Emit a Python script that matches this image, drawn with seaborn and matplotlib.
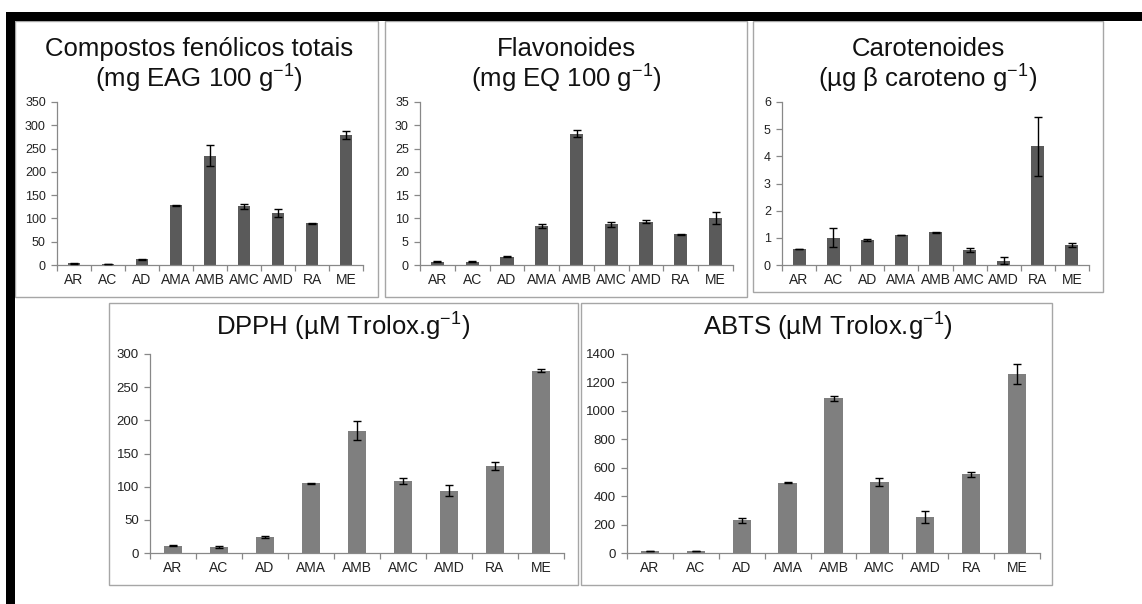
import matplotlib
matplotlib.use("Agg")
import matplotlib.pyplot as plt
from matplotlib.patches import Rectangle
import seaborn as sns
import numpy as np

sns.set_theme(style="white")
plt.rcParams['font.family'] = ['Liberation Sans', 'DejaVu Sans']
plt.rcParams['mathtext.default'] = 'regular'

categories = ["AR", "AC", "AD", "AMA", "AMB", "AMC", "AMD", "RA", "ME"]

fenolicos = [3.5, 2.0, 12.0, 128.0, 235.0, 126.0, 112.0, 90.0, 279.0]
fenolicos_err = [1.0, 0.5, 1.5, 1.5, 22.0, 6.0, 9.0, 1.0, 9.0]

flavonoides = [0.7, 0.7, 1.8, 8.3, 28.2, 8.7, 9.3, 6.6, 10.1]
flavonoides_err = [0.1, 0.1, 0.1, 0.4, 0.8, 0.45, 0.35, 0.1, 1.2]

carotenoides = [0.59, 1.0, 0.92, 1.1, 1.21, 0.55, 0.16, 4.37, 0.74]
carotenoides_err = [0.01, 0.35, 0.04, 0.01, 0.02, 0.06, 0.14, 1.09, 0.08]

dpph = [11.0, 9.0, 24.0, 105.0, 184.5, 108.5, 94.0, 131.0, 275.0]
dpph_err = [1.0, 2.0, 2.0, 1.0, 14.0, 4.0, 8.0, 6.0, 2.0]

abts = [14.0, 14.0, 230.0, 493.0, 1088.0, 500.0, 256.0, 554.0, 1259.0]
abts_err = [3.0, 3.0, 18.0, 3.0, 19.0, 27.0, 42.0, 19.0, 73.0]

titles = [
    "Compostos fenólicos totais\n(mg EAG 100 g$^{-1}$)",
    "Flavonoides\n(mg EQ 100 g$^{-1}$)",
    "Carotenoides\n(µg β caroteno g$^{-1}$)",
    "DPPH (µM Trolox.g$^{-1}$)",
    "ABTS (µM Trolox.g$^{-1}$)",
]

W, H = 1142, 604
fig = plt.figure(figsize=(W / 100, H / 100), dpi=100)
fig.patch.set_facecolor("white")


def fbox(x0, y0, x1, y1):
    return [x0 / W, 1 - y1 / H, (x1 - x0) / W, (y1 - y0) / H]


# black border bars
fig.patches.append(Rectangle((6 / W, 1 - 21 / H), (W - 6) / W, 9 / H,
                             transform=fig.transFigure, facecolor="black",
                             edgecolor="none", zorder=5))
fig.patches.append(Rectangle((6 / W, 0), 9 / W, 1 - 12 / H,
                             transform=fig.transFigure, facecolor="black",
                             edgecolor="none", zorder=5))

frames = [(15, 21, 378, 297), (385, 21, 747, 297), (753, 21, 1103, 292),
          (109, 303, 578, 585), (581, 303, 1052, 585)]
for (x0, y0, x1, y1) in frames:
    b = fbox(x0, y0, x1, y1)
    fig.patches.append(Rectangle((b[0], b[1]), b[2], b[3],
                                 transform=fig.transFigure, facecolor="none",
                                 edgecolor="#a6a6a6", lw=1.0, zorder=1))

panels = [
    dict(vals=fenolicos, errs=fenolicos_err, box=(57, 102, 363, 265),
         ymax=350, step=50, color="#5a5a5a", title=titles[0],
         tx=199, ty=66, width=0.38, fs_tick=9, fs_x=10),
    dict(vals=flavonoides, errs=flavonoides_err, box=(420, 102, 733, 265),
         ymax=35, step=5, color="#5a5a5a", title=titles[1],
         tx=566, ty=66, width=0.38, fs_tick=9, fs_x=10),
    dict(vals=carotenoides, errs=carotenoides_err, box=(782, 102, 1089, 265),
         ymax=6, step=1, color="#5a5a5a", title=titles[2],
         tx=928, ty=66, width=0.38, fs_tick=9, fs_x=10),
    dict(vals=dpph, errs=dpph_err, box=(150, 354, 564, 553),
         ymax=300, step=50, color="#7f7f7f", title=titles[3],
         tx=343, ty=327, width=0.4, fs_tick=9.5, fs_x=10),
    dict(vals=abts, errs=abts_err, box=(627, 354, 1040, 553),
         ymax=1400, step=200, color="#7f7f7f", title=titles[4],
         tx=828, ty=327, width=0.4, fs_tick=9.5, fs_x=10),
]

for p in panels:
    ax = fig.add_axes(fbox(*p["box"]))
    ax.set_facecolor("none")
    sns.barplot(x=categories, y=p["vals"], color=p["color"], width=p["width"],
                saturation=1, ax=ax, edgecolor="none")
    ax.errorbar(np.arange(len(categories)), p["vals"], yerr=p["errs"],
                fmt="none", ecolor="black", elinewidth=1.0, capsize=2.8,
                capthick=1.0, zorder=4)
    ax.set_xlim(-0.5, len(categories) - 0.5)
    ax.set_ylim(0, p["ymax"])
    ax.set_yticks(np.arange(0, p["ymax"] + p["step"] / 2, p["step"]))
    ax.set_yticklabels([f"{int(v)}" for v in ax.get_yticks()])
    ax.set_xticks(np.arange(len(categories)))
    ax.set_xticks(np.arange(-0.5, len(categories)), minor=True)
    ax.set_xticklabels(categories)
    for s in ["top", "right"]:
        ax.spines[s].set_visible(False)
    for s in ["left", "bottom"]:
        ax.spines[s].set_color("#888888")
        ax.spines[s].set_linewidth(0.9)
    ax.tick_params(axis="x", which="major", length=0, pad=6,
                   labelsize=p["fs_x"], labelcolor="#222222")
    ax.tick_params(axis="x", which="minor", length=4, width=0.9,
                   color="#888888", direction="out", bottom=True)
    ax.tick_params(axis="y", which="major", length=4, width=0.9,
                   color="#888888", direction="out", left=True, pad=4,
                   labelsize=p["fs_tick"], labelcolor="#222222")
    ax.set_xlabel("")
    ax.set_ylabel("")
    ax.grid(False)
    fig.text(p["tx"] / W, 1 - p["ty"] / H, p["title"], ha="center",
             va="center", fontsize=18.5, color="#111111", linespacing=1.1)

fig.savefig("out.png", dpi=100, facecolor="white")
